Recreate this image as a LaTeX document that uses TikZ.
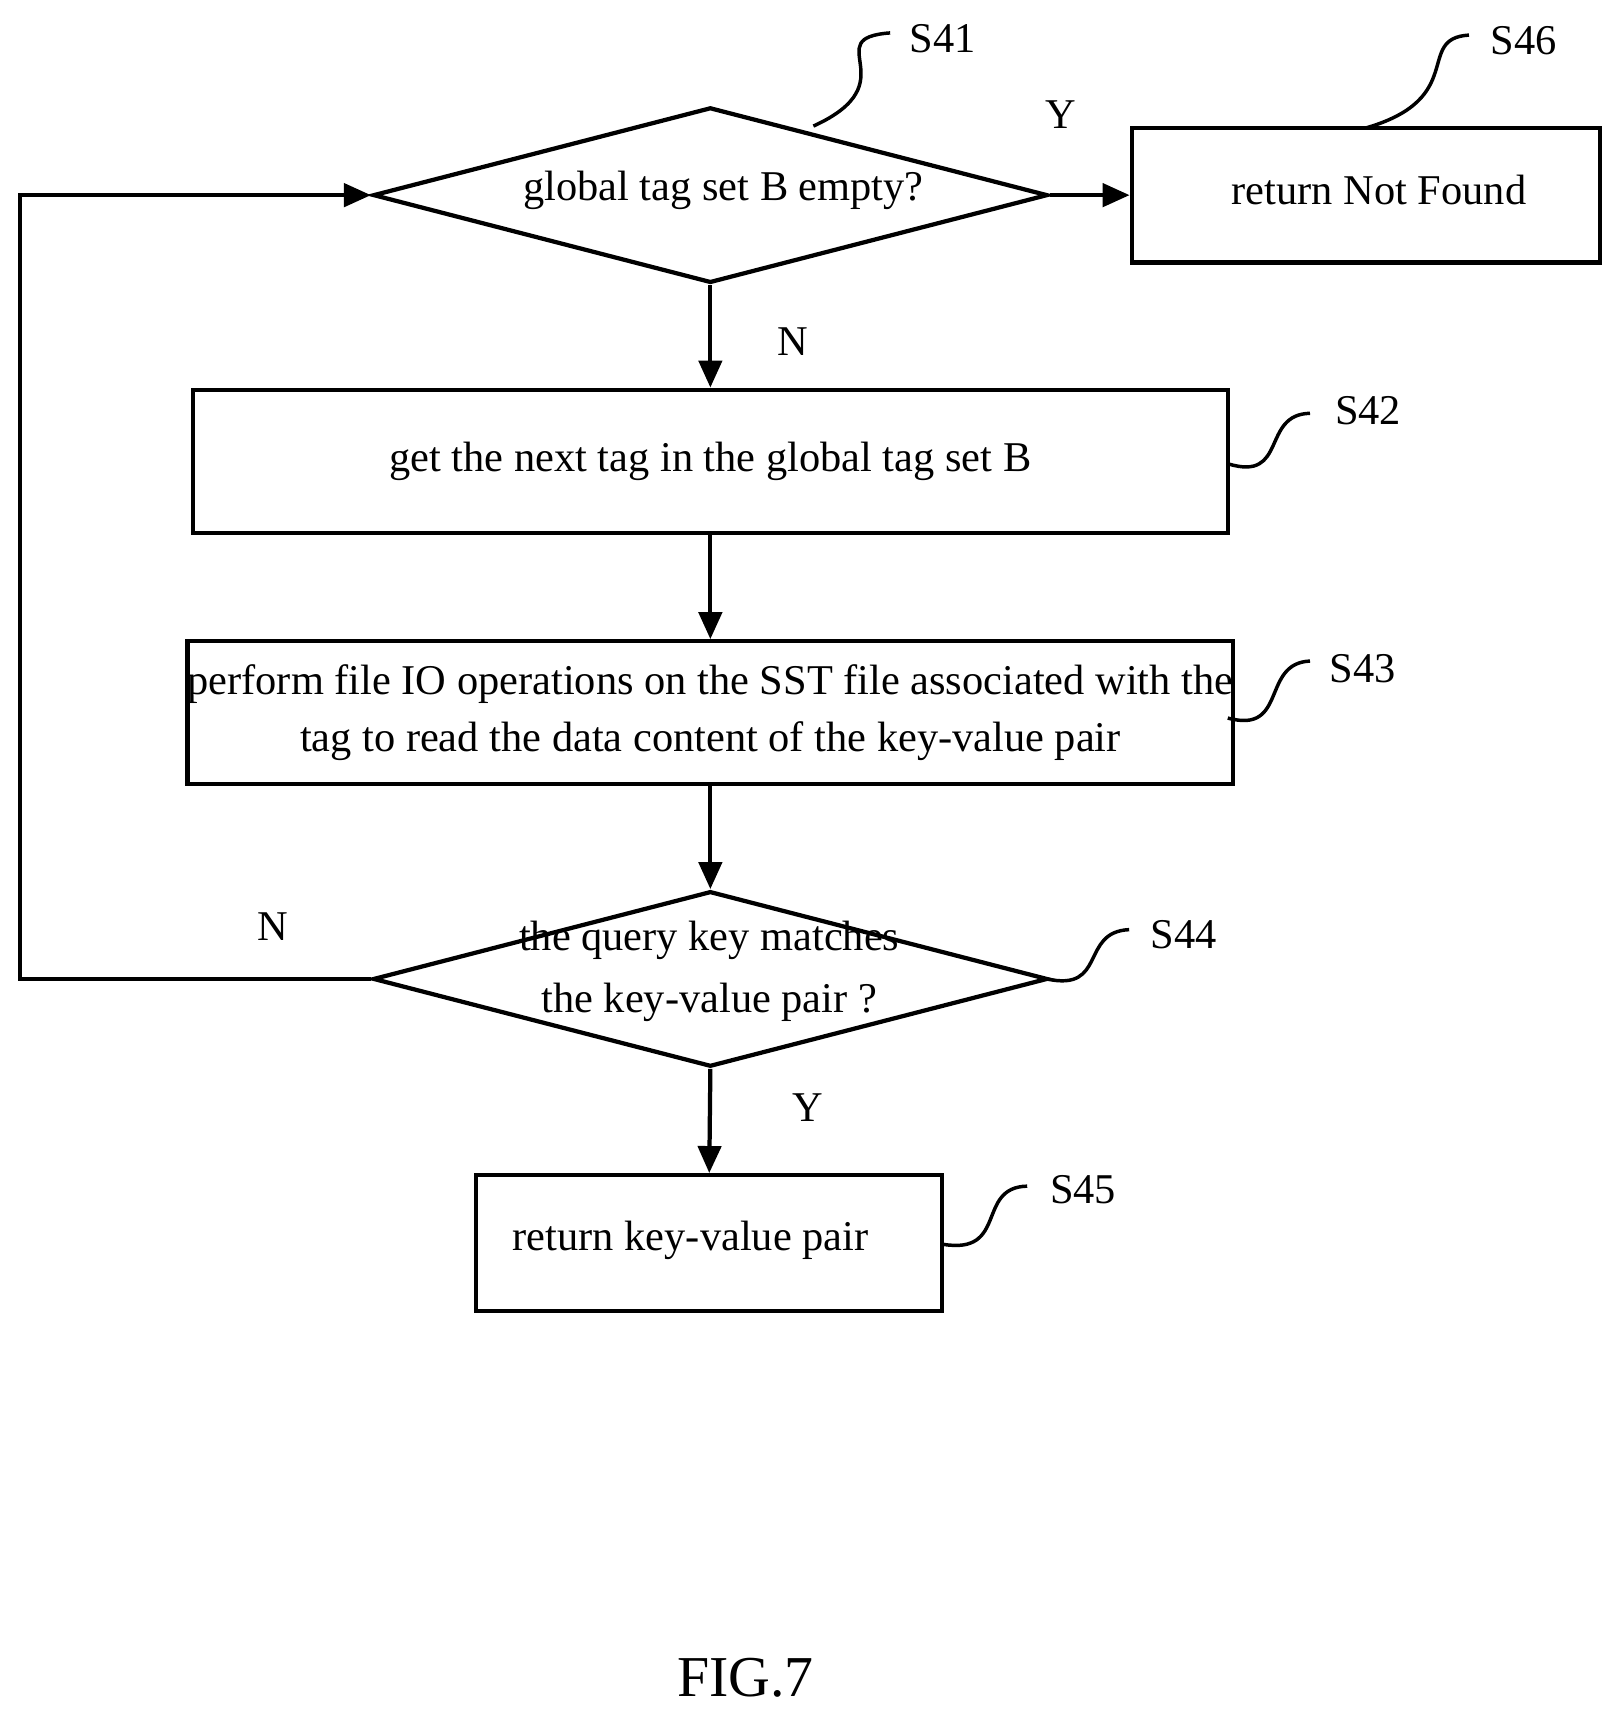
\documentclass[tikz,border=0pt]{standalone}
\usepackage{fontspec}
\setmainfont{Liberation Serif}
\usetikzlibrary{shapes.geometric,arrows.meta}
\begin{document}
\begin{tikzpicture}[x=0.01cm,y=-0.01cm,line width=1.1pt,
  box/.style={draw,rectangle,inner sep=0pt,align=center,font=\fontsize{11}{15}\selectfont},
  dia/.style={draw,diamond,inner sep=0pt,minimum width=6.15cm,minimum height=1.6cm},
  txt/.style={font=\fontsize{11}{15}\selectfont},
  arr/.style={-{Triangle[length=7pt,width=6pt]}},
  sq/.style={line width=0.9pt}]
\useasboundingbox (0,0) rectangle (1480,1569);
\node[dia] (d1) at (648,178) {};
\node[txt] (t1) at (660,174) {global tag set B empty?};
\node[box,minimum width=4.27cm,minimum height=1.23cm] (b6) at (1246,178) {};
\node[txt] at (1258,173) {return Not Found};
\node[box,minimum width=9.44cm,minimum height=1.31cm] (b2) at (648,421) {get the next tag in the global tag set B};
\node[box,minimum width=9.44cm,minimum height=1.30cm] (b3) at (648,650) {perform file IO operations on the SST file associated with the\\tag to read the data content of the key-value pair};
\node[dia] (d4) at (648,893) {};
\node[txt] at (647,858) {the query key matches};
\node[txt] at (647,914) {the key-value pair ?};
\node[box,minimum width=4.25cm,minimum height=1.24cm] (b5) at (647,1134) {};
\node[txt] at (630,1131) {return key-value pair};
\coordinate (l1) at (18,893);
\coordinate (l2) at (18,178);
\draw[arr] (d1.east) -- (b6.west);
\draw[arr] (d1.south) -- (b2.north);
\draw[arr] (b2.south) -- (b3.north);
\draw[arr] (b3.south) -- (d4.north);
\draw[arr] (d4.south) -- (b5.north);
\draw[arr] (d4.west) -- (l1) -- (l2) -- (d1.west);
\node[txt] at (968,105) {Y};
\node[txt] at (723,312) {N};
\node[txt] at (249,845) {N};
\node[txt] at (737,1010) {Y};
\node[txt] (s41) at (860,35) {S41};
\node[txt] (s46) at (1390,37) {S46};
\node[txt] (s42) at (1248,375) {S42};
\node[txt] (s43) at (1243,610) {S43};
\node[txt] (s44) at (1080,853) {S44};
\node[txt] (s45) at (988,1085) {S45};
\draw[sq] (742,115) .. controls (830,75) and (745,35) .. (812,30);
\draw[sq] (1245,117) .. controls (1340,90) and (1290,35) .. (1340,32);
\draw[sq] (1120,423) .. controls (1175,440) and (1150,378) .. (1195,377);
\draw[sq] (1120,655) .. controls (1175,670) and (1150,605) .. (1195,603);
\draw[sq] (955,893) .. controls (1010,905) and (985,850) .. (1030,848);
\draw[sq] (860,1135) .. controls (920,1145) and (890,1083) .. (937,1082);
\node[font=\fontsize{15}{18}\selectfont] at (680,1530) {FIG.7};
\end{tikzpicture}
\end{document}
